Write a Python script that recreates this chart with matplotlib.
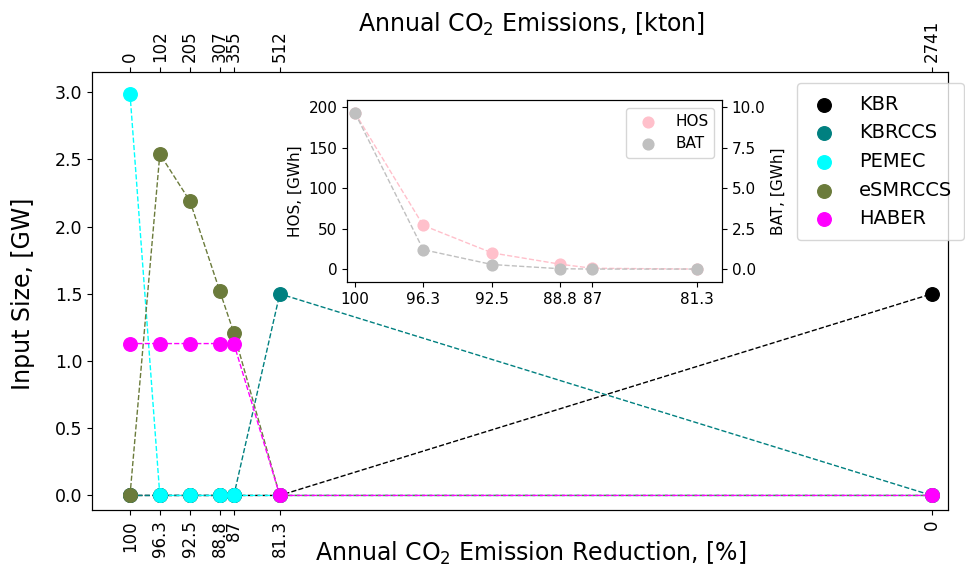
import matplotlib.pyplot as plt
import numpy as np

# emissions in kton (x positions), reduction labels for the bottom axis
emissions = [0, 102, 205, 307, 355, 512, 2741]
reduction_labels = ["100", "96.3", "92.5", "88.8", "87", "81.3", "0"]
emission_labels = ["0", "102", "205", "307", "355", "512", "2741"]

# input sizes, GW
techs = ["KBR", "KBRCCS", "PEMEC", "eSMRCCS", "HABER"]
kbr = [0, 0, 0, 0, 0, 0, 1.5]
kbrccs = [0, 0, 0, 0, 0, 1.5, 0]
pemec = [2.99, 0, 0, 0, 0, 0, 0]
esmrccs = [0, 2.54, 2.19, 1.52, 1.21, 0, 0]
haber = [1.13, 1.13, 1.13, 1.13, 1.13, 0, 0]
colors = ["black", "teal", "cyan", "#6b7b3b", "magenta"]

# storage (inset)
inset_emissions = [0, 102, 205, 307, 355, 512]
inset_labels = ["100", "96.3", "92.5", "88.8", "87", "81.3"]
hos = [193, 54, 20, 6, 1, 0]
bat = [9.65, 1.2, 0.28, 0.02, 0.0, 0.0]


if __name__ == "__main__":

    fig = plt.figure(figsize=(9.65, 5.72), dpi=100)
    ax = fig.add_axes([0.0953, 0.108, 0.887, 0.766])

    series = [kbr, kbrccs, pemec, esmrccs, haber]
    for name, values, c in zip(techs, series, colors):
        ax.plot(emissions, values, "--", color=c, lw=1)
        ax.scatter(emissions, values, color=c, s=95, label=name, zorder=3)

    ax.set_xlim(-130, 2796)
    ax.set_ylim(-0.11, 3.15)
    ax.set_xticks(emissions)
    ax.set_xticklabels(reduction_labels, rotation=90, fontsize=12)
    ax.tick_params(axis="y", labelsize=12.5)
    ax.set_xlabel("Annual CO$_2$ Emission Reduction, [%]", fontsize=17)
    ax.set_ylabel("Input Size, [GW]", fontsize=17)
    ax.xaxis.set_label_coords(0.513, -0.068)
    ax.yaxis.set_label_coords(-0.066, 0.495)

    top = ax.twiny()
    top.set_xlim(ax.get_xlim())
    top.set_xticks(emissions)
    top.set_xticklabels(emission_labels, rotation=90, fontsize=12)
    top.set_xlabel("Annual CO$_2$ Emissions, [kton]", fontsize=17)
    top.xaxis.set_label_coords(0.514, 1.091)

    fig.legend(loc="upper left", bbox_to_anchor=(0.826, 0.855), fontsize=14,
               borderaxespad=0, borderpad=0.6, labelspacing=0.5,
               handlelength=1.6, handletextpad=1.0)

    # inset with storage sizes
    ins = fig.add_axes([0.3596, 0.507, 0.3886, 0.318])
    ins.plot(inset_emissions, hos, "--", color="pink", lw=1)
    ins.scatter(inset_emissions, hos, color="pink", s=60, label="HOS", zorder=3)
    ins.set_xlim(-12, 549)
    ins.set_ylim(-16, 209)
    ins.set_xticks(inset_emissions)
    ins.set_xticklabels(inset_labels, fontsize=11)
    ins.tick_params(axis="y", labelsize=11)
    ins.set_ylabel("HOS, [GWh]", fontsize=11)

    ins2 = ins.twinx()
    ins2.plot(inset_emissions, bat, "--", color="silver", lw=1)
    ins2.scatter(inset_emissions, bat, color="silver", s=60, label="BAT", zorder=3)
    ins2.set_ylim(-0.8, 10.45)
    ins2.set_yticks([0, 2.5, 5.0, 7.5, 10.0])
    ins2.tick_params(axis="y", labelsize=11)
    ins2.set_ylabel("BAT, [GWh]", fontsize=11)

    h1, l1 = ins.get_legend_handles_labels()
    h2, l2 = ins2.get_legend_handles_labels()
    ins2.legend(h1 + h2, l1 + l2, loc="upper right", fontsize=11)

    fig.savefig("out.png", dpi=100)
